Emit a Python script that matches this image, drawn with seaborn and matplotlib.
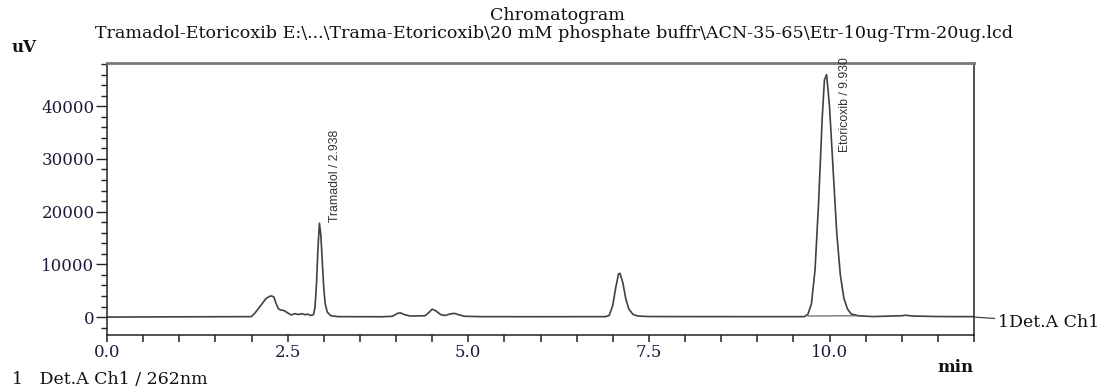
import matplotlib
matplotlib.use("Agg")
import matplotlib.pyplot as plt
import seaborn as sns
import pandas as pd
from matplotlib.ticker import MultipleLocator

# ---- data ----
time_min = [0.0, 1.0, 1.95, 2.0, 2.05, 2.10, 2.15, 2.20, 2.25, 2.28, 2.31, 2.34, 2.37, 2.40,
            2.45, 2.50, 2.55, 2.60, 2.64, 2.67, 2.70, 2.74, 2.78, 2.82, 2.86, 2.88, 2.90,
            2.92, 2.94, 2.96, 2.98, 3.00, 3.02, 3.05, 3.10, 3.20, 3.80, 3.95, 4.02, 4.06,
            4.12, 4.20, 4.40, 4.45, 4.50, 4.55, 4.62, 4.68, 4.75, 4.81, 4.88, 4.95, 5.2,
            6.0, 6.9, 6.95, 7.00, 7.04, 7.08, 7.10, 7.14, 7.18, 7.22, 7.28, 7.35, 7.5,
            9.0, 9.65, 9.70, 9.75, 9.80, 9.85, 9.90, 9.93, 9.96, 10.00, 10.05, 10.10,
            10.15, 10.20, 10.25, 10.30, 10.40, 10.60, 11.0, 11.05, 11.15, 11.5, 12.0]
signal_uv = [0, 50, 80, 100, 800, 1700, 2600, 3500, 3950, 4000, 3800, 2600, 1600, 1350,
             1250, 800, 400, 650, 500, 550, 650, 450, 550, 300, 500, 2000, 6500,
             13000, 17800, 15500, 10500, 5500, 2500, 900, 250, 80, 60, 150, 700, 800,
             450, 200, 250, 800, 1500, 1200, 450, 300, 600, 700, 400, 150, 80,
             70, 80, 300, 2200, 5500, 8200, 8300, 6500, 3500, 1600, 500, 200, 100,
             80, 80, 500, 2500, 9000, 22000, 38000, 45000, 46000, 40000, 28000, 16000,
             8000, 3500, 1500, 600, 250, 100, 250, 350, 200, 100, 80]

# integration baseline under the Etoricoxib peak
etor_base_t = [9.70, 10.40]
etor_base_y = [200, 250]

peak_names = ["Tramadol / 2.938", "Etoricoxib / 9.930"]
peak_label_x = [3.15, 10.22]
peak_label_y = [18000, 31300]

x_major = [0.0, 2.5, 5.0, 7.5, 10.0]
x_labels = ["0.0", "2.5", "5.0", "7.5", "10.0"]
y_major = [0, 10000, 20000, 30000, 40000]
y_labels = ["0", "10000", "20000", "30000", "40000"]

title = "Chromatogram"
subtitle = ("Tramadol-Etoricoxib E:\\...\\Trama-Etoricoxib\\20 mM phosphate buffr"
            "\\ACN-35-65\\Etr-10ug-Trm-20ug.lcd")
channel_label = "1Det.A Ch1"
footer = "1   Det.A Ch1 / 262nm"

df = pd.DataFrame({"time": time_min, "signal": signal_uv})

sns.set_style("white")
plt.rcParams["font.family"] = ["DejaVu Serif", "Liberation Serif"]

W, H = 1102, 387
fig = plt.figure(figsize=(W / 100, H / 100), dpi=100)
ax = fig.add_axes([107 / W, (H - 335) / H, (974 - 107) / W, (335 - 63) / H])

trace_color = "#404040"
sns.lineplot(data=df, x="time", y="signal", ax=ax, color=trace_color,
             linewidth=1.2, sort=False, estimator=None)
ax.plot(etor_base_t, etor_base_y, color="#555555", linewidth=0.8)

ax.set_xlim(0, 12.0)
ax.set_ylim(-3400, 48200)
ax.set_xlabel("")
ax.set_ylabel("")

tick_color = "#1b1b3a"
fs = 12
ax.set_xticks(x_major)
ax.set_xticklabels(x_labels)
ax.set_yticks(y_major)
ax.set_yticklabels(y_labels)
ax.xaxis.set_minor_locator(MultipleLocator(0.5))
ax.yaxis.set_minor_locator(MultipleLocator(2000))
ax.tick_params(axis="x", which="both", direction="out", length=5, width=1.1,
               colors="#222222", labelcolor=tick_color, labelsize=fs, pad=1.5,
               bottom=True)
ax.tick_params(axis="y", which="major", direction="out", length=8, width=1.0,
               colors="#222222", labelcolor=tick_color, labelsize=fs, pad=1,
               left=True)
ax.tick_params(axis="y", which="minor", direction="out", length=4, width=1.0,
               colors="#222222", left=True)

for side in ["left", "bottom", "right"]:
    ax.spines[side].set_visible(True)
    ax.spines[side].set_color("#222222")
    ax.spines[side].set_linewidth(1.1)
ax.spines["top"].set_visible(True)
ax.spines["top"].set_color("#777777")
ax.spines["top"].set_linewidth(2.0)

# peak labels
for name, px, py in zip(peak_names, peak_label_x, peak_label_y):
    ax.text(px, py, name, rotation=90, ha="center", va="bottom", fontsize=8.8,
            color="#333333", family=["Liberation Sans", "DejaVu Sans"])

# channel label at right end of baseline
ax.annotate(channel_label, xy=(12.0, 0), xycoords="data",
            xytext=(24, -5), textcoords="offset pixels",
            ha="left", va="center", fontsize=12.5, color="#111111",
            annotation_clip=False,
            arrowprops=dict(arrowstyle="-", color="#444444", lw=0.9,
                            shrinkA=0, shrinkB=0))

def ftext(x, y, s, **kw):
    fig.text(x / W, 1 - y / H, s, **kw)

ftext(557, 15, title, ha="center", va="center", fontsize=12.6, color="#111111")
ftext(554, 33, subtitle, ha="center", va="center", fontsize=12.6, color="#111111")
ftext(24, 47, "uV", ha="center", va="center", fontsize=fs, fontweight="bold",
      color="#111111")
ftext(955, 367, "min", ha="center", va="center", fontsize=fs, fontweight="bold",
      color="#111111")
ftext(12, 380, footer, ha="left", va="center", fontsize=12.5, color="#111111")

fig.savefig("out.png", dpi=100, facecolor="white")
